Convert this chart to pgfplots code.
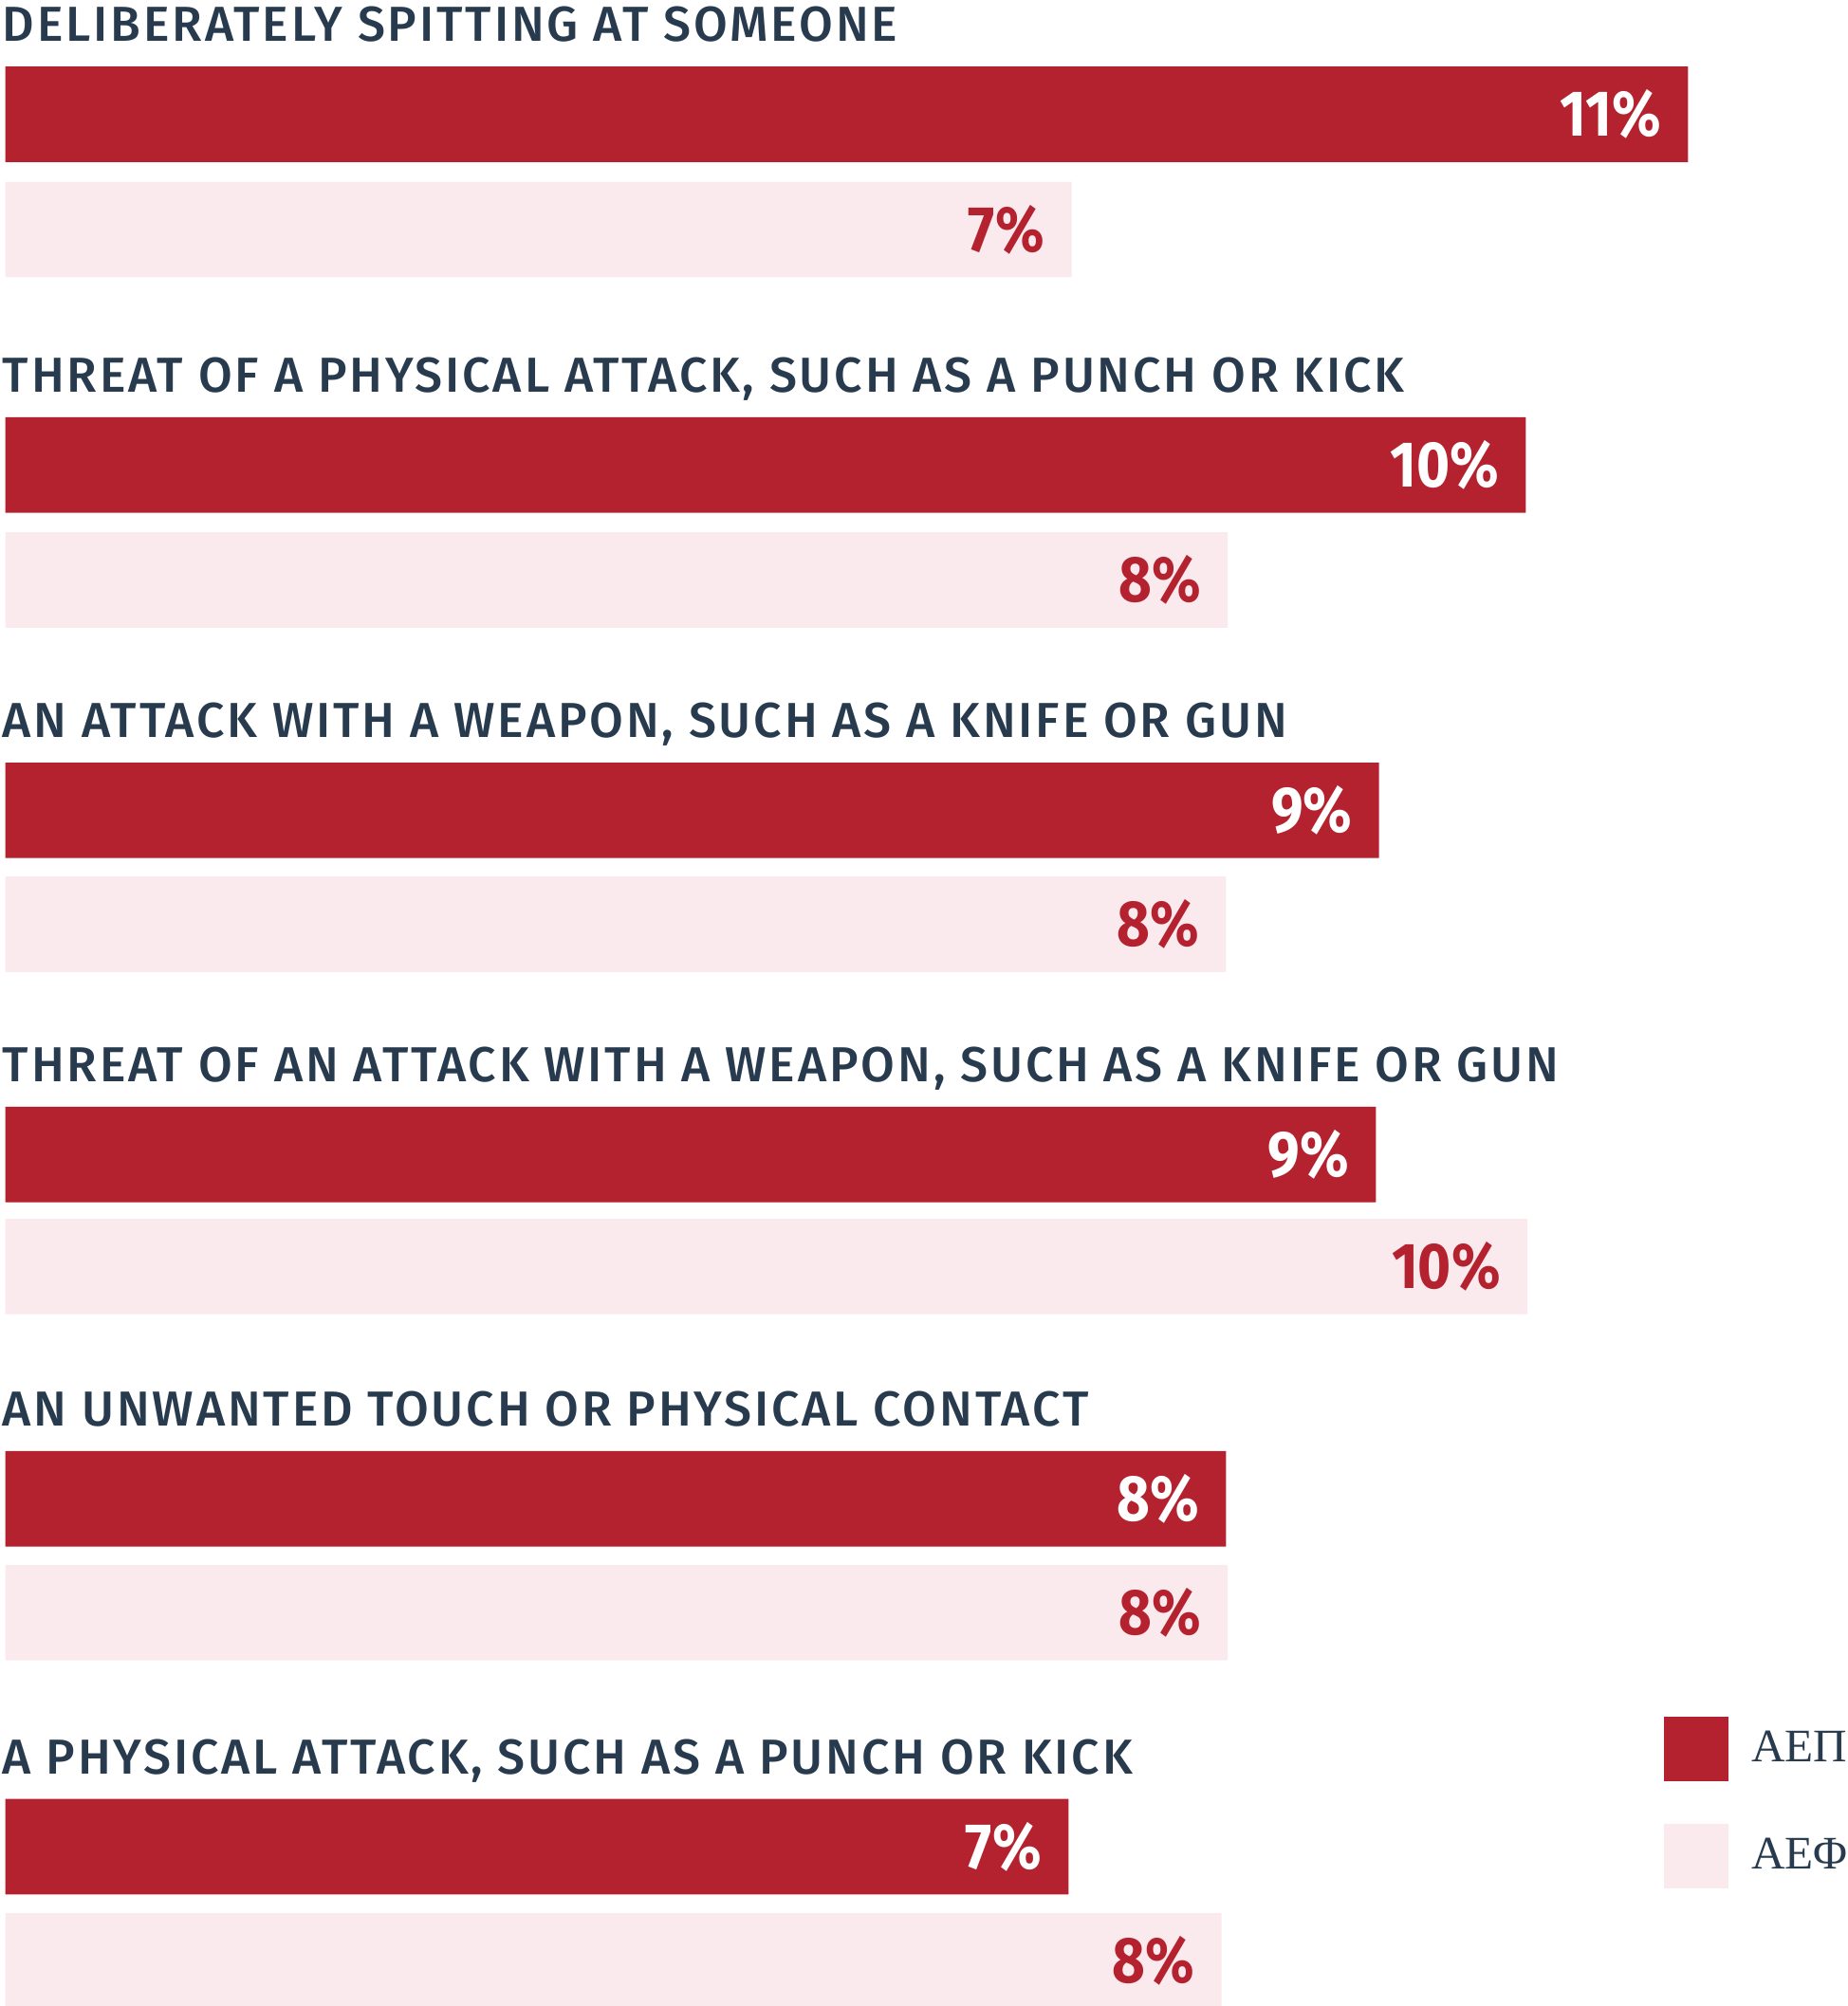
\documentclass[border=0pt]{standalone}
\usepackage{pgfplots}
\usepackage{pgfplotstable}
\pgfplotsset{compat=1.18}
\usepackage{fontspec}
\setmainfont{Fira Sans}
\newfontfamily\labfont{Fira Sans Medium}[LetterSpace=5.5]
\newfontfamily\numfont{Fira Sans Bold}[FakeStretch=0.88]
\newfontfamily\legfont{Liberation Serif}
\definecolor{aepred}{HTML}{B5222F}
\definecolor{aefpink}{HTML}{FAEAEE}
\definecolor{navy}{HTML}{283B4E}

\pgfplotstableread{
y x lab
120.45 11.00 11
490.15 9.94 10
854.35 8.98 9
1217.25 8.96 9
1580.15 7.98 8
1947.05 6.95 7
}\aep
\pgfplotstableread{
y x lab
241.95 6.97 7
611.55 7.99 8
974.45 7.98 8
1335.35 9.95 10
1700.15 7.99 8
2067.35 7.95 8
}\aef

\begin{document}
\begin{tikzpicture}
\begin{axis}[
  scale only axis, width=973.5pt, height=1057.5pt,
  xmin=-0.035, xmax=12.04, ymin=0, ymax=2115, y dir=reverse,
  axis lines=none, clip=false,
  xbar, bar width=50.35pt, bar shift=0pt,
  point meta=explicit symbolic,
  nodes near coords={\pgfplotspointmeta\%},
  every node near coord/.append style={anchor=east, xshift=-14pt, inner sep=0pt, font=\numfont\fontsize{34.1pt}{36pt}\selectfont},
  legend style={draw=none, fill=none, inner sep=0pt, outer sep=0pt,
    at={(axis cs:10.845,1810)}, anchor=north west,
    nodes={anchor=base west, inner sep=0pt, font=\legfont\fontsize{24.6pt}{28pt}\selectfont, text=navy},
    row sep=22.5pt, column sep=12pt},
]
\addplot[fill=aepred, draw=none, every node near coord/.append style={text=white},
  legend image code/.code={\fill[aepred] (0pt,-10.15pt) rectangle (34pt,23.85pt);}]
  table[x=x, y=y, meta=lab] {\aep};
\addlegendentry{ΑΕΠ}
\addplot[fill=aefpink, draw=none, every node near coord/.append style={text=aepred},
  legend image code/.code={\fill[aefpink] (0pt,-10.15pt) rectangle (34pt,23.85pt);}]
  table[x=x, y=y, meta=lab] {\aef};
\addlegendentry{ΑΕΦ}
\begin{scope}[every node/.style={anchor=base west, inner sep=0pt, text=navy, font=\labfont\fontsize{25.9pt}{28pt}\selectfont}]
\node at (axis cs:-0.02,43.6) {DELIBERATELY SPITTING AT SOMEONE};
\node at (axis cs:-0.02,413.3) {THREAT OF A PHYSICAL ATTACK, SUCH AS A PUNCH OR KICK};
\node at (axis cs:-0.02,777.5) {AN ATTACK WITH A WEAPON, SUCH AS A KNIFE OR GUN};
\node at (axis cs:-0.02,1140.4) {THREAT OF AN ATTACK WITH A WEAPON, SUCH AS A KNIFE OR GUN};
\node at (axis cs:-0.02,1503.3) {AN UNWANTED TOUCH OR PHYSICAL CONTACT};
\node at (axis cs:-0.02,1870.2) {A PHYSICAL ATTACK, SUCH AS A PUNCH OR KICK};
\end{scope}
\end{axis}
\pgfresetboundingbox
\path (current axis.south west) rectangle (current axis.north east);
\end{tikzpicture}
\end{document}
